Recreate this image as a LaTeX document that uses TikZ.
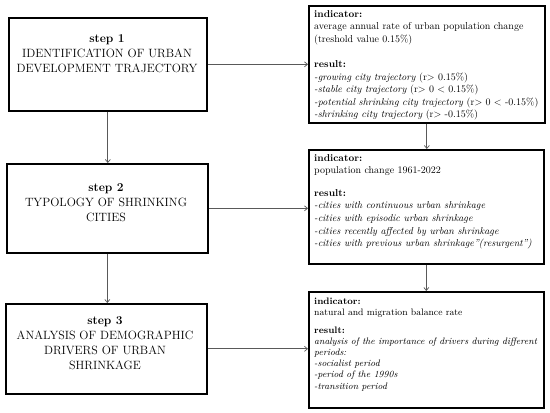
\documentclass[tikz,border=0pt]{standalone}
\usetikzlibrary{arrows.meta}
\begin{document}
\begin{tikzpicture}[x=1pt,y=-1pt,
  box/.style={draw=black, line width=1.6pt, rectangle, inner sep=0pt, anchor=north west},
  steptext/.style={anchor=north, align=center, inner sep=0pt, font=\fontsize{12}{15}\selectfont},
  restext/.style={anchor=north west, align=left, inner sep=0pt, font=\fontsize{10}{12.6}\selectfont},
  conn/.style={draw=black!65, line width=0.7pt, -{Straight Barb[length=3pt,width=5pt]}}]
\useasboundingbox[fill=white] (0,0) rectangle (550,413);
% step boxes
\node[box, minimum width=198pt, minimum height=93pt] (s1) at (8,17) {};
\node[box, minimum width=201pt, minimum height=89pt] (s2) at (6,163) {};
\node[box, minimum width=201pt, minimum height=90pt] (s3) at (5,303) {};
% result boxes
\node[box, minimum width=236pt, minimum height=117pt] (r1) at (308,5) {};
\node[box, minimum width=235pt, minimum height=114pt] (r2) at (308,149) {};
\node[box, minimum width=235pt, minimum height=116pt] (r3) at (308,291) {};
% step texts
\node[steptext] (t1) at (107,34) {\textbf{step 1}\\IDENTIFICATION OF URBAN\\DEVELOPMENT TRAJECTORY};
\node[steptext] (t2) at (106,183) {\textbf{step 2}\\TYPOLOGY OF SHRINKING\\CITIES};
\node[steptext] (t3) at (105,316) {\textbf{step 3}\\ANALYSIS OF DEMOGRAPHIC\\DRIVERS OF URBAN\\SHRINKAGE};
% result texts
\node[restext] (u1) at (314,10) {\textbf{indicator:}\\average annual rate of urban population change\\(treshold value 0.15\%)\\[12.6pt]
\textbf{result:}\\\textit{-growing city trajectory} (r$>$ 0.15\%)\\\textit{-stable city trajectory} (r$>$ 0 $<$ 0.15\%)\\\textit{-potential shrinking city trajectory} (r$>$ 0 $<$ -0.15\%)\\\textit{-shrinking city trajectory} (r$>$ -0.15\%)};
\node[restext] (u2) at (314,154) {\textbf{indicator:}\\population change 1961-2022\\[10pt]
\textbf{result:}\\\textit{-cities with continuous urban shrinkage}\\\textit{-cities with episodic urban shrinkage}\\\textit{-cities recently affected by urban shrinkage}\\\textit{-cities with previous urban shrinkage''(resurgent'')}};
\node[restext, font=\fontsize{9.4}{11.2}\selectfont] (u3) at (314,298) {\textbf{indicator:}\\natural and migration balance rate\\[6pt]
\textbf{result:}\\\textit{analysis of the importance of drivers during different}\\\textit{periods:}\\\textit{-socialist period}\\\textit{-period of the 1990s}\\\textit{-transition period}};
% connectors
\draw[conn] (s1.east) -- (s1.east -| r1.west);
\draw[conn] (s2.east) -- (s2.east -| r2.west);
\draw[conn] (s3.east) -- (s3.east -| r3.west);
\draw[conn] (s1.south) -- (s1.south |- s2.north);
\draw[conn] (s2.south) -- (s2.south |- s3.north);
\draw[conn] (r1.south) -- (r1.south |- r2.north);
\draw[conn] (r2.south) -- (r2.south |- r3.north);
\end{tikzpicture}
\end{document}
